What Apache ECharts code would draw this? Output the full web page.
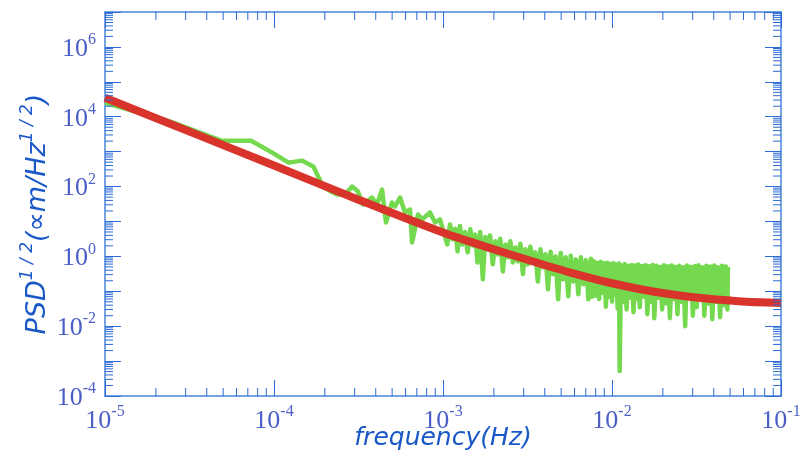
<!DOCTYPE html>
<html>
<head>
<meta charset="utf-8">
<title>PSD</title>
<script src="https://cdn.jsdelivr.net/npm/echarts@6/dist/echarts.min.js"></script>
<style>
  html,body{margin:0;padding:0;background:#fff;}
  #chart{width:800px;height:457px;}
</style>
</head>
<body>
<div id="chart"></div>
<script>
// measured spectrum (green), frequency in Hz
var freqData = [
  1.00e-5, 2.44e-5, 4.88e-5, 7.32e-5, 9.77e-5, 1.22e-4, 1.46e-4, 1.71e-4, 1.95e-4, 2.14e-4,
  2.36e-4, 2.63e-4, 2.90e-4, 3.14e-4, 3.36e-4, 3.80e-4, 4.07e-4, 4.36e-4, 4.60e-4, 4.99e-4,
  5.20e-4, 5.57e-4, 5.96e-4, 6.38e-4, 6.56e-4, 7.11e-4, 7.52e-4, 8.38e-4, 8.97e-4, 9.60e-4,
  1.06e-3, 1.10e-3, 1.14e-3, 1.18e-3, 1.22e-3, 1.26e-3, 1.30e-3, 1.35e-3, 1.40e-3, 1.45e-3,
  1.50e-3, 1.55e-3, 1.60e-3, 1.66e-3, 1.72e-3, 1.78e-3, 1.84e-3, 1.90e-3, 1.97e-3, 2.04e-3,
  2.11e-3, 2.18e-3, 2.26e-3, 2.34e-3, 2.42e-3, 2.50e-3, 2.59e-3, 2.68e-3, 2.77e-3, 2.87e-3,
  2.97e-3, 3.07e-3, 3.18e-3, 3.29e-3, 3.40e-3, 3.52e-3, 3.64e-3, 3.77e-3, 3.90e-3, 4.04e-3,
  4.18e-3, 4.33e-3, 4.48e-3, 4.64e-3, 4.80e-3, 4.97e-3, 5.14e-3, 5.32e-3, 5.51e-3, 5.70e-3,
  5.90e-3, 6.11e-3, 6.32e-3, 6.54e-3, 6.77e-3, 7.01e-3, 7.25e-3, 7.50e-3, 7.63e-3,
  0.0078, 0.0080, 0.0082, 0.0084, 0.0086, 0.0088, 0.0090, 0.0092, 0.0094, 0.0096,
  0.0098, 0.0100, 0.0102, 0.0104, 0.0106, 0.0108, 0.0110, 0.0111, 0.0113, 0.0116,
  0.0119, 0.0122, 0.0125, 0.0128, 0.0131, 0.0134, 0.0137, 0.0140, 0.0143, 0.0146,
  0.0150, 0.0154, 0.0158, 0.0162, 0.0166, 0.0170, 0.0174, 0.0178, 0.0183, 0.0188,
  0.0193, 0.0198, 0.0203, 0.0208, 0.0214, 0.0220, 0.0226, 0.0232, 0.0238, 0.0244,
  0.0250, 0.0257, 0.0264, 0.0271, 0.0278, 0.0285, 0.0293, 0.0301, 0.0309, 0.0317,
  0.0325, 0.0334, 0.0343, 0.0352, 0.0362, 0.0372, 0.0382, 0.0392, 0.0403, 0.0414,
  0.0425, 0.0436, 0.0448, 0.0460, 0.0472, 0.0482, 0.0485
];
var psdData = [
  2.5e4, 7.2e3, 2.06e3, 2.06e3, 936, 485, 553, 373, 100, 75,
  59, 59, 100, 72, 30.6, 48.5, 30.6, 82, 9.4, 34.9,
  26.8, 48.5, 18.1, 22, 2.5, 15.8, 11.4, 18.1, 9.4, 11.4,
  2.2, 8.2, 3.06, 6.2, 1.39, 7.4, 2.2, 5.0, 1.3, 6.0,
  2.06, 4.2, 0.67, 5.0, 0.22, 3.6, 1.58, 4.0, 0.59, 2.7,
  1.14, 3.2, 0.37, 2.2, 0.94, 2.7, 0.67, 1.8, 0.72, 2.3,
  0.31, 1.6, 0.59, 1.9, 0.72, 1.3, 0.19, 1.6, 0.485, 1.15,
  0.114, 1.35, 0.31, 1.0, 0.059, 1.25, 0.22, 0.95, 0.072, 1.05,
  0.19, 0.82, 0.082, 0.95, 0.16, 0.78, 0.059, 0.86, 0.07,
  0.72, 0.075, 0.66, 0.06, 0.70, 0.09, 0.63, 0.036, 0.66, 0.07,
  0.60, 0.05, 0.64, 0.08, 0.58, 0.032, 0.62, 0.00052, 0.56, 0.05,
  0.60, 0.03, 0.54, 0.065, 0.57, 0.025, 0.55, 0.06, 0.58, 0.035,
  0.53, 0.07, 0.56, 0.022, 0.52, 0.05, 0.57, 0.017, 0.54, 0.065,
  0.50, 0.03, 0.56, 0.045, 0.52, 0.017, 0.55, 0.06, 0.50, 0.022,
  0.54, 0.05, 0.49, 0.01, 0.55, 0.07, 0.50, 0.02, 0.53, 0.035,
  0.56, 0.06, 0.49, 0.02, 0.54, 0.045, 0.51, 0.016, 0.55, 0.05,
  0.49, 0.018, 0.54, 0.04, 0.51, 0.03, 0.50
];
// model curve (red)
var fitFreq = [1e-5, 1e-4, 3.16e-4, 1e-3, 1.78e-3, 3.16e-3, 5.62e-3, 1e-2, 1.78e-2, 3.16e-2, 5.62e-2, 1e-1];
var fitPsd  = [3.5e4, 400, 42, 4.8, 1.9, 0.8, 0.35, 0.17, 0.097, 0.066, 0.052, 0.046];

var xRange = [1e-5, 1e-1];
var yRange = [1e-4, 1e7];
var minorSteps = [2, 3, 4, 5, 6, 7, 8, 9];

var labelColor = '#4a5ec6';
var nameColor = '#1a58c8';
var axisColor = '#4a84da';
var tickColor = '#2c6cd6';

function powLabel(v) {
  var e = Math.round(Math.log10(v));
  return '{b|10}{s|' + e + '}';
}
var labelRich = {
  b: {fontFamily: 'Liberation Serif', fontSize: 26, color: labelColor, lineHeight: 30, verticalAlign: 'bottom'},
  s: {fontFamily: 'Liberation Serif', fontSize: 16, color: labelColor, lineHeight: 15, verticalAlign: 'top'}
};

var chart = echarts.init(document.getElementById('chart'));
var option = {
  animation: false,
  backgroundColor: '#fff',
  grid: {left: 105, right: 19, top: 12, bottom: 61, containLabel: false, outerBoundsMode: 'none'},
  xAxis: [{
    type: 'log', logBase: 10, min: xRange[0], max: xRange[1], interval: 1,
    name: 'frequency(Hz)', nameLocation: 'middle', nameGap: 30, nameMoveOverlap: false,
    nameTextStyle: {fontFamily: 'DejaVu Sans', fontStyle: 'italic', fontSize: 25, color: nameColor},
    axisLine: {lineStyle: {color: axisColor, width: 1.5}},
    axisTick: {inside: true, length: 16, lineStyle: {color: tickColor, width: 1}},
    axisLabel: {margin: 8, formatter: powLabel, rich: labelRich},
    splitLine: {show: false}
  }, {
    type: 'log', logBase: 10, min: xRange[0], max: xRange[1], interval: 1, position: 'top',
    axisLine: {lineStyle: {color: axisColor, width: 1.5}},
    axisTick: {inside: true, length: 16, lineStyle: {color: tickColor, width: 1}},
    axisLabel: {show: false}, splitLine: {show: false}
  }],
  yAxis: [{
    type: 'log', logBase: 10, min: yRange[0], max: yRange[1], interval: 1,
    name: '{n|PSD}{s|1 / 2}{n|(∝m/Hz}{s|1 / 2}{n|)}', nameLocation: 'middle', nameGap: 54, nameRotate: 90,
    nameMoveOverlap: false,
    nameTextStyle: {
      padding: [0, 20, 0, 0],
      rich: {
        n: {fontFamily: 'DejaVu Sans', fontStyle: 'italic', fontSize: 27, color: nameColor, lineHeight: 32, verticalAlign: 'bottom'},
        s: {fontFamily: 'DejaVu Sans', fontStyle: 'italic', fontSize: 17, color: nameColor, lineHeight: 17, verticalAlign: 'top'}
      }
    },
    axisLine: {lineStyle: {color: axisColor, width: 1.5}},
    axisTick: {inside: true, length: 16, lineStyle: {color: tickColor, width: 1}},
    axisLabel: {
      margin: 9,
      formatter: function (v) {
        var e = Math.round(Math.log10(v));
        return e % 2 === 0 ? powLabel(v) : '';
      },
      rich: labelRich
    },
    splitLine: {show: false}
  }, {
    type: 'log', logBase: 10, min: yRange[0], max: yRange[1], interval: 1, position: 'right',
    axisLine: {lineStyle: {color: axisColor, width: 1.5}},
    axisTick: {inside: true, length: 16, lineStyle: {color: tickColor, width: 1}},
    axisLabel: {show: false}, splitLine: {show: false}
  }],
  series: [{
    name: 'spectrum', type: 'line', xAxisIndex: 0, yAxisIndex: 0,
    showSymbol: false, symbol: 'none',
    lineStyle: {color: '#74d94e', width: 4.5, join: 'round'},
    data: freqData.map(function (f, i) { return [f, psdData[i]]; }),
    z: 2
  }, {
    name: 'model', type: 'line', xAxisIndex: 0, yAxisIndex: 0,
    showSymbol: false, symbol: 'none', smooth: 0.3,
    lineStyle: {color: '#d9342b', width: 8},
    data: fitFreq.map(function (f, i) { return [f, fitPsd[i]]; }),
    z: 3
  }]
};
chart.setOption(option);

// minor ticks (2..9 per decade) on all four sides
var gfx = [];
var pBL = chart.convertToPixel({gridIndex: 0}, [xRange[0], yRange[0]]);
var pTR = chart.convertToPixel({gridIndex: 0}, [xRange[1], yRange[1]]);
var tickStyle = {stroke: tickColor, lineWidth: 1};
for (var d = -5; d < -1; d++) {
  minorSteps.forEach(function (m) {
    var px = chart.convertToPixel({xAxisIndex: 0}, m * Math.pow(10, d));
    gfx.push({type: 'line', shape: {x1: px, y1: pBL[1], x2: px, y2: pBL[1] - 8}, style: tickStyle, z: 10});
    gfx.push({type: 'line', shape: {x1: px, y1: pTR[1], x2: px, y2: pTR[1] + 8}, style: tickStyle, z: 10});
  });
}
for (var e = -4; e < 7; e++) {
  minorSteps.forEach(function (m) {
    var py = chart.convertToPixel({yAxisIndex: 0}, m * Math.pow(10, e));
    gfx.push({type: 'line', shape: {x1: pBL[0], y1: py, x2: pBL[0] + 8, y2: py}, style: tickStyle, z: 10});
    gfx.push({type: 'line', shape: {x1: pTR[0], y1: py, x2: pTR[0] - 8, y2: py}, style: tickStyle, z: 10});
  });
}
chart.setOption({graphic: gfx});
</script>
</body>
</html>
